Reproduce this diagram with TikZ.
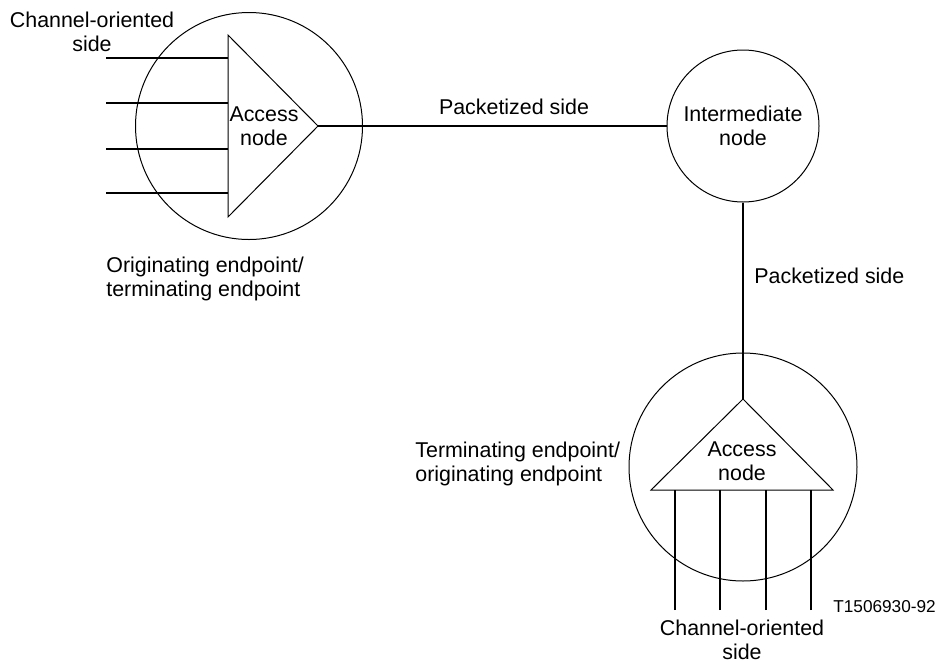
\documentclass[tikz,border=0pt]{standalone}
\usepackage{fontspec}
\setmainfont{Liberation Sans}
\usetikzlibrary{positioning}
\tikzset{
	site/.style={draw, circle, line width=0.5pt, inner sep=0pt},
	wire/.style={line width=1pt},
	lbl/.style={inner sep=0pt, font=\fontsize{10.7pt}{12pt}\selectfont, align=center}
}
\begin{document}
\begin{tikzpicture}[x=0.5pt,y=-0.5pt]
		\useasboundingbox (0,0) rectangle (937,670);
		
		% originating endpoint
		\node[site, minimum size=113.5pt] (orig) at (249,126) {};
		\coordinate (oa) at (228,35);
		\coordinate (ob) at (228,217);
		\coordinate (oc) at (318,126);
		\draw[line width=0.5pt] (oa) -- (ob) -- (oc) -- cycle;
		\node[lbl] (acc1) at (264,126) {Access\\node};
		\foreach \y [count=\i] in {58,103,149,193}
		\draw[wire] (106,\y) coordinate (in\i) -- (in\i -| oa);
		\node[lbl] (chan1) at (92,32) {Channel-oriented\\side};
		\node[lbl, anchor=west, align=left] (end1) at (106,279) {Originating endpoint/\\terminating endpoint};
		
		% intermediate node
		\node[site, minimum size=76pt, lbl, draw] (mid) at (743,126) {Intermediate\\node};
		\draw[wire] (oc) -- (mid.west);
		\node[lbl] (pack1) at (514,107) {Packetized side};
		
		% terminating endpoint
		\node[site, minimum size=114pt] (term) at (743,467) {};
		\coordinate (ta) at (743,399);
		\coordinate (tb) at (651,490);
		\coordinate (tc) at (833,490);
		\draw[line width=0.5pt] (ta) -- (tb) -- (tc) -- cycle;
		\node[lbl] (acc2) at (742,461) {Access\\node};
		\draw[wire] (mid.south) -- (ta);
		\node[lbl, anchor=west] (pack2) at (754,276) {Packetized side};
		\foreach \x [count=\i] in {675,720,766,811}
		\draw[wire] (\x,610) coordinate (out\i) -- (out\i |- tb);
		\node[lbl] (chan2) at (742,640) {Channel-oriented\\side};
		\node[lbl, anchor=west, align=left] (end2) at (415,464) {Terminating endpoint/\\originating endpoint};
		
		\node[lbl, anchor=west, font=\fontsize{8.6pt}{10pt}\selectfont] (ref) at (833,607) {T1506930-92};
		
	\end{tikzpicture}
\end{document}
